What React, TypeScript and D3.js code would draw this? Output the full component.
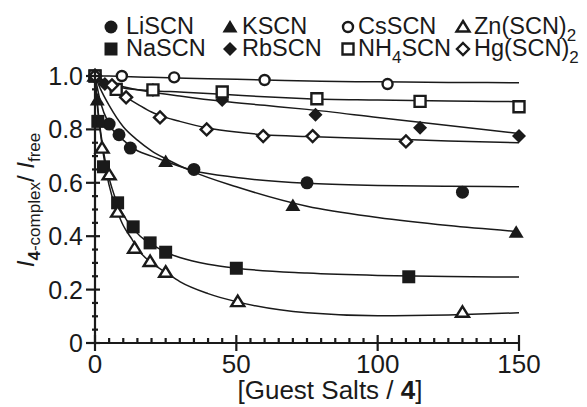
import React, { useEffect, useRef } from 'react';
import * as d3 from 'd3';

// measured points (x = [guest]/[4], y = I4-complex / Ifree)
const liX = [0, 5, 8.5, 12.5, 35, 75, 130];
const liY = [1.0, 0.82, 0.78, 0.73, 0.65, 0.6, 0.565];
const naX = [0, 1, 3, 8, 13.5, 19.5, 25, 50, 111];
const naY = [1.0, 0.83, 0.66, 0.525, 0.435, 0.375, 0.34, 0.28, 0.248];
const kX = [0, 0.8, 25, 70, 149];
const kY = [1.0, 0.91, 0.68, 0.515, 0.415];
const rbX = [0, 3.5, 20.5, 45, 78, 115, 150];
const rbY = [1.0, 0.97, 0.948, 0.91, 0.855, 0.806, 0.775];
const csX = [0, 9.5, 28, 60, 103.5];
const csY = [1.0, 1.0, 0.995, 0.985, 0.97];
const nh4X = [0, 7.5, 20.5, 45, 78.5, 115, 150];
const nh4Y = [1.0, 0.95, 0.948, 0.94, 0.915, 0.905, 0.885];
const hgX = [0, 6, 11, 23, 39.5, 59.5, 77, 110];
const hgY = [1.0, 0.965, 0.92, 0.845, 0.8, 0.775, 0.775, 0.755];
const znX = [0, 2.5, 5, 8, 14, 19.5, 25, 50.5, 130];
const znY = [1.0, 0.73, 0.63, 0.49, 0.355, 0.305, 0.265, 0.155, 0.115];

// fitted curves
const liFitX = [0, 2, 5, 10, 15, 20, 25, 35, 50, 75, 100, 125, 150];
const liFitY = [1.0, 0.9, 0.82, 0.76, 0.72, 0.7, 0.68, 0.645, 0.62, 0.598, 0.59, 0.587, 0.585];
const kFitX = [0, 2, 5, 10, 15, 20, 25, 35, 50, 75, 100, 125, 150];
const kFitY = [1.0, 0.95, 0.89, 0.81, 0.76, 0.72, 0.69, 0.64, 0.585, 0.512, 0.47, 0.44, 0.417];
const naFitX = [0, 1, 2, 4, 6, 8, 10, 13, 16, 20, 25, 30, 40, 50, 75, 100, 125, 150];
const naFitY = [1.0, 0.88, 0.79, 0.66, 0.58, 0.52, 0.48, 0.435, 0.4, 0.37, 0.34, 0.32, 0.295, 0.28, 0.262, 0.253, 0.249, 0.247];
const znFitX = [0, 1, 2, 4, 6, 8, 10, 13, 16, 20, 25, 30, 40, 50, 75, 100, 125, 150];
const znFitY = [1.0, 0.87, 0.78, 0.64, 0.55, 0.49, 0.44, 0.39, 0.34, 0.3, 0.265, 0.23, 0.185, 0.155, 0.113, 0.102, 0.105, 0.113];
const csFitX = [0, 5, 10, 20, 40, 60, 80, 100, 125, 150];
const csFitY = [1.0, 1.0, 0.998, 0.995, 0.99, 0.985, 0.98, 0.978, 0.976, 0.975];
const nh4FitX = [0, 5, 10, 20, 30, 45, 60, 75, 100, 125, 150];
const nh4FitY = [1.0, 0.97, 0.955, 0.945, 0.94, 0.932, 0.922, 0.915, 0.91, 0.906, 0.904];
const rbFitX = [0, 5, 10, 20, 30, 45, 60, 75, 100, 125, 150];
const rbFitY = [1.0, 0.975, 0.96, 0.94, 0.925, 0.905, 0.89, 0.875, 0.845, 0.815, 0.785];
const hgFitX = [0, 3, 7, 11, 15, 20, 25, 30, 40, 50, 60, 75, 100, 125, 150];
const hgFitY = [1.0, 0.97, 0.945, 0.92, 0.895, 0.865, 0.845, 0.83, 0.805, 0.79, 0.78, 0.773, 0.765, 0.757, 0.75];

const xTicks = [0, 50, 100, 150];
const yTicks = [0, 0.2, 0.4, 0.6, 0.8, 1.0];
const yTickLabels = ['0', '0.2', '0.4', '0.6', '0.8', '1.0'];

type Marker = 'circle' | 'square' | 'triangle' | 'diamond';

const series: { name: string; marker: Marker; filled: boolean; xs: number[]; ys: number[]; fx: number[]; fy: number[] }[] = [
  { name: 'LiSCN', marker: 'circle', filled: true, xs: liX, ys: liY, fx: liFitX, fy: liFitY },
  { name: 'NaSCN', marker: 'square', filled: true, xs: naX, ys: naY, fx: naFitX, fy: naFitY },
  { name: 'KSCN', marker: 'triangle', filled: true, xs: kX, ys: kY, fx: kFitX, fy: kFitY },
  { name: 'RbSCN', marker: 'diamond', filled: true, xs: rbX, ys: rbY, fx: rbFitX, fy: rbFitY },
  { name: 'CsSCN', marker: 'circle', filled: false, xs: csX, ys: csY, fx: csFitX, fy: csFitY },
  { name: 'NH4SCN', marker: 'square', filled: false, xs: nh4X, ys: nh4Y, fx: nh4FitX, fy: nh4FitY },
  { name: 'Zn(SCN)2', marker: 'triangle', filled: false, xs: znX, ys: znY, fx: znFitX, fy: znFitY },
  { name: 'Hg(SCN)2', marker: 'diamond', filled: false, xs: hgX, ys: hgY, fx: hgFitX, fy: hgFitY },
];

const FONT = "'Liberation Sans', Arial, sans-serif";

// path for a marker centred on 0,0
const markerPath = (m: Marker, filled: boolean): string => {
  const s = filled ? 6.5 : 5.5;
  if (m === 'square') return `M${-s},${-s}H${s}V${s}H${-s}Z`;
  if (m === 'triangle') return `M0,${-s - 0.5}L${s + 1},${s - 1}H${-s - 1}Z`;
  if (m === 'diamond') return `M0,${-s - 0.5}L${s + 0.5},0L0,${s + 0.5}L${-s - 0.5},0Z`;
  return '';
};

const drawMarker = (g: d3.Selection<SVGGElement, unknown, null, undefined>, m: Marker, filled: boolean, x: number, y: number) => {
  if (m === 'circle') {
    g.append('circle')
      .attr('cx', x).attr('cy', y)
      .attr('r', filled ? 6.5 : 5)
      .attr('fill', filled ? '#1a1a1a' : '#fff')
      .attr('stroke', '#1a1a1a')
      .attr('stroke-width', filled ? 0 : 2.4);
  } else {
    g.append('path')
      .attr('transform', `translate(${x},${y})`)
      .attr('d', markerPath(m, filled))
      .attr('fill', filled ? '#1a1a1a' : '#fff')
      .attr('stroke', '#1a1a1a')
      .attr('stroke-width', filled ? 0 : 2.4)
      .attr('stroke-linejoin', 'miter');
  }
};

const App: React.FC = () => {
  const svgRef = useRef<SVGSVGElement>(null);

  useEffect(() => {
    if (!svgRef.current) return;
    const svg = d3.select(svgRef.current);
    svg.selectAll('*').remove();

    const x = d3.scaleLinear().domain([0, 150]).range([95, 519]);
    const y = d3.scaleLinear().domain([0, 1]).range([343, 76]);
    const ink = '#1a1a1a';

    // fit curves
    const line = d3.line<[number, number]>()
      .x(d => x(d[0]))
      .y(d => y(d[1]))
      .curve(d3.curveMonotoneX);
    const curves = svg.append('g');
    series.forEach(s => {
      curves.append('path')
        .attr('d', line(s.fx.map((v, i) => [v, s.fy[i]] as [number, number])))
        .attr('fill', 'none')
        .attr('stroke', ink)
        .attr('stroke-width', 1.5);
    });

    // points
    const pts = svg.append('g');
    series.forEach(s => {
      s.xs.forEach((v, i) => drawMarker(pts, s.marker, s.filled, x(v), y(s.ys[i])));
    });

    // axes
    const ax = svg.append('g').attr('stroke', ink).attr('stroke-width', 2.2);
    ax.append('line').attr('x1', x(0)).attr('x2', x(150)).attr('y1', y(0)).attr('y2', y(0));
    ax.append('line').attr('x1', x(0)).attr('x2', x(0)).attr('y1', y(0)).attr('y2', y(1) - 5);
    d3.range(0, 151, 5).forEach(v => {
      const major = v % 50 === 0;
      ax.append('line')
        .attr('x1', x(v)).attr('x2', x(v))
        .attr('y1', major ? y(0) - 8 : y(0) - 5)
        .attr('y2', major ? y(0) + 8 : y(0));
    });
    d3.range(0, 21).forEach(k => {
      const v = k * 0.05;
      const major = k % 4 === 0;
      ax.append('line')
        .attr('y1', y(v)).attr('y2', y(v))
        .attr('x1', major ? x(0) - 9 : x(0) - 3)
        .attr('x2', major ? x(0) + 5 : x(0) + 3);
    });

    // tick labels
    svg.append('g').selectAll('text').data(xTicks).enter().append('text')
      .attr('x', d => x(d)).attr('y', 373)
      .attr('text-anchor', 'middle')
      .attr('font-family', FONT).attr('font-size', 26).attr('fill', ink)
      .text(d => d);
    svg.append('g').selectAll('text').data(yTicks).enter().append('text')
      .attr('x', 83).attr('y', d => y(d) + 9)
      .attr('text-anchor', 'end')
      .attr('font-family', FONT).attr('font-size', 25).attr('fill', ink)
      .text((d, i) => yTickLabels[i]);

    // x title
    const xt = svg.append('text')
      .attr('x', 330).attr('y', 399)
      .attr('text-anchor', 'middle')
      .attr('font-family', FONT).attr('font-size', 26).attr('fill', ink);
    xt.append('tspan').text('[Guest Salts / ');
    xt.append('tspan').attr('font-weight', 'bold').text('4');
    xt.append('tspan').text(']');

    // y title
    const yt = svg.append('text')
      .attr('transform', 'translate(34,200) rotate(-90)')
      .attr('text-anchor', 'middle')
      .attr('font-family', FONT).attr('font-size', 24).attr('fill', ink);
    yt.append('tspan').attr('font-style', 'italic').text('I');
    yt.append('tspan').attr('font-size', 17).attr('dy', 6).attr('font-weight', 'bold').text('4');
    yt.append('tspan').attr('font-size', 17).text('-complex');
    yt.append('tspan').attr('dy', -6).text('/ ');
    yt.append('tspan').attr('font-style', 'italic').text('I');
    yt.append('tspan').attr('font-size', 17).attr('dy', 6).text('free');

    // legend
    const legendCols = [111, 230, 348, 463];
    const legendRows = [27, 49];
    const textOffset = [15, 12, 10, 11];
    const order = [['LiSCN', 'NaSCN'], ['KSCN', 'RbSCN'], ['CsSCN', 'NH4SCN'], ['Zn(SCN)2', 'Hg(SCN)2']];
    const lg = svg.append('g');
    order.forEach((col, ci) => {
      col.forEach((name, ri) => {
        const s = series.find(d => d.name === name)!;
        const mx = legendCols[ci];
        const my = legendRows[ri];
        drawMarker(lg, s.marker, s.filled, mx, my);
        const t = lg.append('text')
          .attr('x', mx + textOffset[ci]).attr('y', my + 7)
          .attr('font-family', FONT).attr('font-size', 23.5).attr('fill', ink);
        const m = name.match(/^(.*?)(\d)(.*)$/);
        if (m) {
          t.append('tspan').text(m[1]);
          t.append('tspan').attr('font-size', 17).attr('dy', 7).text(m[2]);
          if (m[3]) t.append('tspan').attr('dy', -7).text(m[3]);
        } else {
          t.text(name);
        }
      });
    });
  }, []);

  return (
    <div style={{ position: 'absolute', left: 0, top: 0, width: 587, height: 407, background: '#fff' }}>
      <svg ref={svgRef} width={587} height={407}></svg>
    </div>
  );
};

export default App;
